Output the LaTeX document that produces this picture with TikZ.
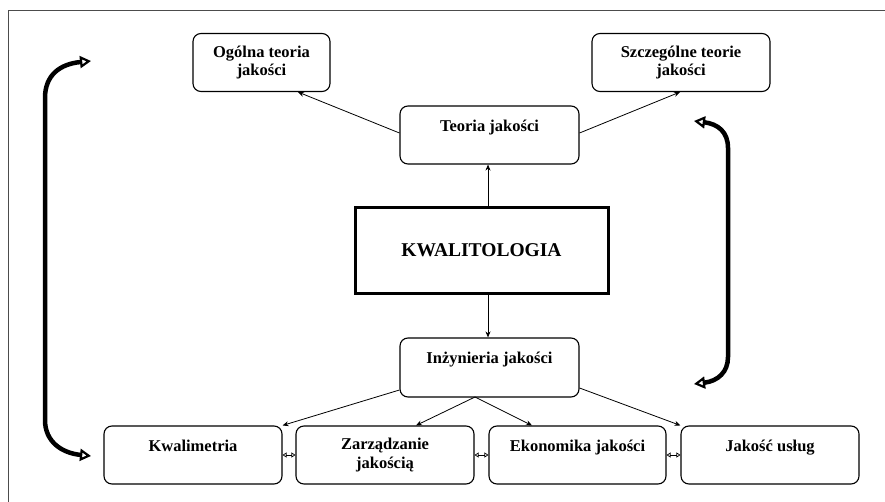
\documentclass[tikz,border=0pt]{standalone}
\usepackage{fontspec}
\setmainfont{Liberation Serif}
\usetikzlibrary{arrows.meta}
\begin{document}
\begin{tikzpicture}[x=1pt,y=-1pt,
  box/.style={draw, rounded corners=8pt, line width=1.1pt, align=center,
    inner sep=0pt, minimum height=58pt,
    font=\fontsize{16.5}{18.5}\selectfont\bfseries},
  mainbox/.style={draw, line width=3pt, inner sep=0pt,
    minimum width=253pt, minimum height=86pt,
    font=\fontsize{19.5}{22}\selectfont\bfseries},
  thin/.style={line width=0.8pt, -{Stealth[length=6pt,width=5pt]}},
  link/.style={line width=0.8pt,
    {Triangle[open,length=4pt,width=5pt,line width=0.7pt]}-{Triangle[open,length=4pt,width=5pt,line width=0.7pt]}},
  bigarrow/.style={line width=4.5pt,
    {Triangle[open,length=11pt,width=12pt,line width=2.2pt]}-{Triangle[open,length=11pt,width=12pt,line width=2.2pt]}}
]
\useasboundingbox (0,0) rectangle (885,502);
\draw[line width=0.8pt, black!70] (885,10) -- (8,10) -- (8,502);

\node[box, minimum width=137pt] (og) at (261.5,62.5) {Ogólna teoria\\jakości};
\node[box, minimum width=178pt] (sz) at (681,62.5) {Szczególne teorie\\jakości};
\node[box, minimum width=179pt] (te) at (489.5,135) {Teoria jakości\\\mbox{}};
\node[mainbox] (kw) at (481.5,250.5) {KWALITOLOGIA};
\node[box, minimum width=179pt, minimum height=59pt] (in) at (489.5,367.5) {Inżynieria jakości\\\mbox{}};
\node[box, minimum width=178pt] (kl) at (193,455) {Kwalimetria\\\mbox{}};
\node[box, minimum width=178pt] (za) at (385,455) {Zarządzanie\\jakością};
\node[box, minimum width=177pt] (ek) at (577.5,455) {Ekonomika jakości\\\mbox{}};
\node[box, minimum width=178pt] (ju) at (770,455) {Jakość usług\\\mbox{}};

% vertical arrows
\draw[thin] (kw.north -| te.south) ++(-1.5,0) coordinate (kwt) -- (kwt |- te.south);
\draw[thin] (kw.south -| in.north) ++(-1.5,0) coordinate (kwb) -- (kwb |- in.north);

% Teoria -> top boxes
\draw[thin] (te.west |- 0,133) -- (og.south -| 298,0);
\draw[thin] (te.east |- 0,133) -- (sz.south -| 680,0);

% Inzynieria -> bottom boxes
\coordinate (ib) at (475,397);
\draw[thin] (in.west |- 0,390) -- (kl.north east);
\draw[thin] (ib) -- (za.north -| 416,0);
\draw[thin] (ib) -- (ek.north -| 532,0);
\draw[thin] (in.east |- 0,388) -- (ju.north west);

% links between bottom boxes
\draw[link] (kl.east) -- (za.west);
\draw[link] (za.east) -- (ek.west);
\draw[link] (ek.east) -- (ju.west);

% big curved arrows
\coordinate (L1) at (91,61);
\coordinate (L2) at (91,456);
\draw[bigarrow] (L1) .. controls (60,64) and (45,75) .. (45,98) -- (45,420) .. controls (45,442) and (62,453) .. (L2);
\coordinate (R1) at (694,121);
\coordinate (R2) at (694,384);
\draw[bigarrow] (R1) .. controls (718,124) and (728,132) .. (728,148) -- (728,357) .. controls (728,372) and (718,381) .. (R2);
\end{tikzpicture}
\end{document}
